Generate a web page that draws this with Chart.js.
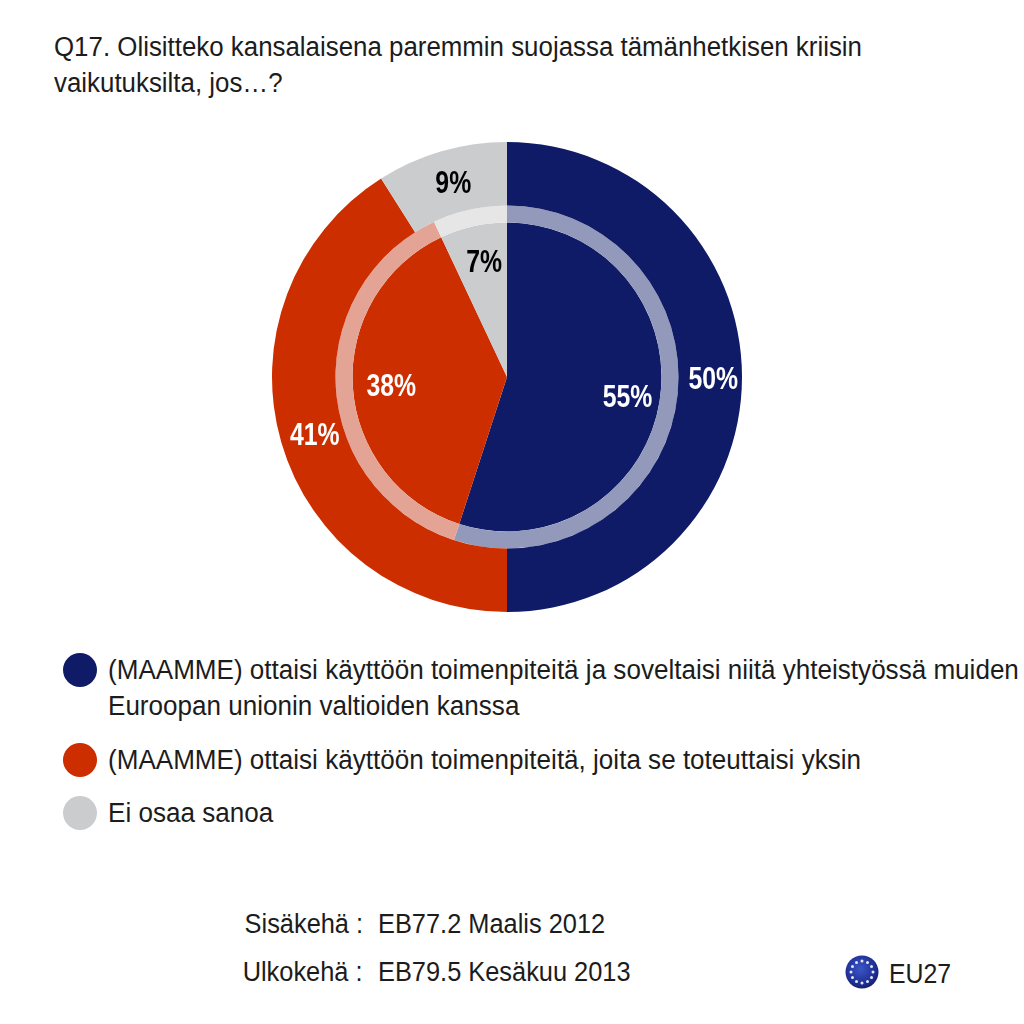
<!DOCTYPE html>
<html lang="fi"><head><meta charset="utf-8">
<style>
html,body{margin:0;padding:0;background:#fff;width:1024px;height:1024px;overflow:hidden}
#stage{position:relative;width:1024px;height:1024px;font-family:"Liberation Sans",Arial,sans-serif;color:#1c1c1c}
.t{position:absolute;white-space:nowrap;font-size:27px;line-height:36px;transform-origin:0 0;transform:scaleX(.965)}
.f{transform:scaleX(.94)}
.dot{position:absolute;width:34px;height:34px;border-radius:50%}
canvas{position:absolute;left:267px;top:137px}
#flag{position:absolute;left:845px;top:955px}
</style></head><body>
<div id="stage">
<div class="t" id="title" style="left:54px;top:29px;transform:scaleX(.958)"></div>
<canvas id="c" width="480" height="480" style="width:480px;height:480px"></canvas>
<div id="legend"></div>
<div id="foot"></div>
<svg id="flag" width="34" height="34" viewBox="0 0 34 34">
<defs><radialGradient id="g" cx=".45" cy=".4" r=".65"><stop offset="0" stop-color="#3b56c8"/><stop offset=".7" stop-color="#1f2f95"/><stop offset="1" stop-color="#121c60"/></radialGradient></defs>
<circle cx="17" cy="17" r="16.5" fill="url(#g)"/>
<g id="stars" fill="#e4e6f4"></g>
</svg>
<div class="t" style="left:889px;top:956px;transform:scaleX(.92)">EU27</div>
</div>
<script src="https://cdn.jsdelivr.net/npm/chart.js@4/dist/chart.umd.min.js"></script>
<script>
const titleLines = ["Q17. Olisitteko kansalaisena paremmin suojassa tämänhetkisen kriisin","vaikutuksilta, jos…?"];
const categories = ["(MAAMME) ottaisi käyttöön toimenpiteitä ja soveltaisi niitä yhteistyössä muiden Euroopan unionin valtioiden kanssa","(MAAMME) ottaisi käyttöön toimenpiteitä, joita se toteuttaisi yksin","Ei osaa sanoa"];
const legendLines = [["(MAAMME) ottaisi käyttöön toimenpiteitä ja soveltaisi niitä yhteistyössä muiden","Euroopan unionin valtioiden kanssa"],["(MAAMME) ottaisi käyttöön toimenpiteitä, joita se toteuttaisi yksin"],["Ei osaa sanoa"]];
const outerValues = [50,41,9];   // EB79.5 Kesäkuu 2013
const innerValues = [55,38,7];   // EB77.2 Maalis 2012
const colors = ["#0F1B66","#CC2E00","#CBCCCE"];
const ringColors = ["#9299BA","#E3A496","#E6E6E7"];
const labelColors = ["#ffffff","#ffffff","#000000"];
const footNames = ["Sisäkehä :","Ulkokehä :"];
const footValues = ["EB77.2 Maalis 2012","EB79.5 Kesäkuu 2013"];

const stage = document.getElementById('stage');
function addText(str,x,y,cls){const d=document.createElement('div');d.className='t'+(cls?' '+cls:'');d.textContent=str;d.style.left=x+'px';d.style.top=y+'px';stage.appendChild(d);return d;}
document.getElementById('title').innerHTML = titleLines.join('<br>');
const legendTops=[652,742,795], dotTops=[653,743,796];
legendLines.forEach((ls,i)=>{
  const dot=document.createElement('div');dot.className='dot';dot.style.left='63px';dot.style.top=dotTops[i]+'px';dot.style.background=colors[i];stage.appendChild(dot);
  ls.forEach((s,j)=>addText(s,108,legendTops[i]+j*36));
});
footNames.forEach((s,i)=>{
  const n=addText(s,0,906+i*48,'f');n.style.left='auto';n.style.right=(1024-363)+'px';n.style.transformOrigin='100% 0';
  addText(footValues[i],378,906+i*48,'f');
});
const starsG=document.getElementById('stars');
for(let i=0;i<12;i++){const a=i*Math.PI/6;const c=document.createElementNS('http://www.w3.org/2000/svg','circle');c.setAttribute('cx',17+11*Math.sin(a));c.setAttribute('cy',17-11*Math.cos(a));c.setAttribute('r',1.5);starsG.appendChild(c);}

const pctLabels={id:'pctLabels',afterDatasetsDraw(chart){
  const ctx=chart.ctx;ctx.save();ctx.textAlign='center';ctx.textBaseline='middle';
  [0,2].forEach(di=>{
    chart.getDatasetMeta(di).data.forEach((arc,i)=>{
      const p=arc.getProps(['startAngle','endAngle','outerRadius','innerRadius','x','y'],true);
      const mid=(p.startAngle+p.endAngle)/2;
      const r=di===0?(p.outerRadius+p.innerRadius)/2:p.outerRadius*0.77;
      const x=p.x+r*Math.cos(mid)+3,y=p.y+r*Math.sin(mid)+3;
      ctx.save();ctx.translate(x,y);ctx.scale(.8,1);
      ctx.font='bold 31px "Liberation Sans",Arial,sans-serif';ctx.fillStyle=labelColors[i];
      ctx.fillText(chart.data.datasets[di].data[i]+'%',0,0);ctx.restore();
    });
  });
  ctx.restore();
}};
new Chart(document.getElementById('c'),{
  type:'doughnut',
  data:{labels:categories,datasets:[
    {label:'EB79.5 Kesäkuu 2013',data:outerValues,backgroundColor:colors,borderWidth:0,weight:63.5},
    {label:'rengas',data:innerValues,backgroundColor:ringColors,borderWidth:0,weight:17},
    {label:'EB77.2 Maalis 2012',data:innerValues,backgroundColor:colors,borderWidth:0,weight:154.5}
  ]},
  options:{responsive:false,animation:false,cutout:0,radius:235,rotation:0,
    plugins:{legend:{display:false},tooltip:{enabled:false}},
    layout:{padding:0}},
  plugins:[pctLabels]
});
</script>
</body></html>
